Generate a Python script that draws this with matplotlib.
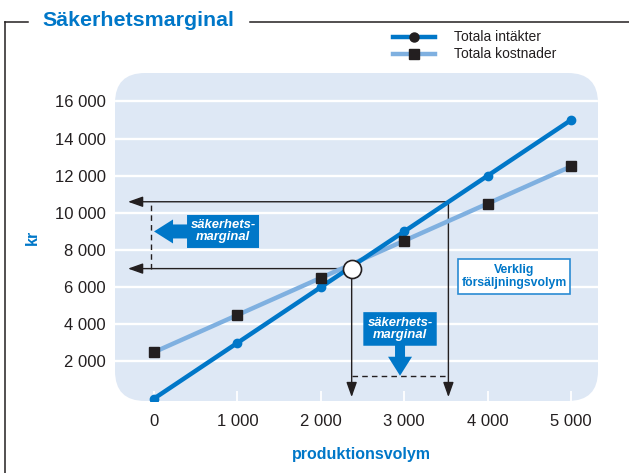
import matplotlib
matplotlib.use("Agg")
import matplotlib.pyplot as plt
import matplotlib.transforms as mtransforms
from matplotlib.patches import FancyBboxPatch, Polygon, Rectangle
from matplotlib.lines import Line2D

# --- data -------------------------------------------------------------
volume = [0, 1000, 2000, 3000, 4000, 5000]
revenue = [0, 3000, 6000, 9000, 12000, 15000]
costs = [2500, 4500, 6500, 8500, 10500, 12500]
x_ticks = [0, 1000, 2000, 3000, 4000, 5000]
x_labels = ["0", "1 000", "2 000", "3 000", "4 000", "5 000"]
y_ticks = [2000, 4000, 6000, 8000, 10000, 12000, 14000, 16000]
y_labels = ["2 000", "4 000", "6 000", "8 000", "10 000", "12 000", "14 000", "16 000"]

break_even_volume = 2370
break_even_kr = 7000
actual_volume = 3530
actual_kr = 10600

# --- style ------------------------------------------------------------
BLUE = "#0077C8"
LIGHT = "#7FB0E0"
BG = "#DEE8F5"
INK = "#231F20"
W, H = 629, 473

plt.rcParams["font.family"] = ["Liberation Sans", "DejaVu Sans"]

fig = plt.figure(figsize=(W / 100, H / 100), dpi=100)
fig.patch.set_facecolor("white")


def fx(x):
    return x / W


def fy(y):
    return 1 - y / H


ax = fig.add_axes([fx(115), fy(401), 483 / W, 328 / H])
ax.patch.set_visible(False)
for s in ax.spines.values():
    s.set_visible(False)

# rounded light-blue plotting panel
bg = FancyBboxPatch((0, 0), 1, 1, boxstyle="round,pad=0,rounding_size=0.0621",
                    mutation_aspect=483 / 328, transform=ax.transAxes,
                    facecolor=BG, edgecolor="none", zorder=0)
ax.add_patch(bg)

for yv in y_ticks:
    gl = ax.axhline(yv, color="white", lw=1.7, zorder=0.5)
    gl.set_clip_path(bg)

# --- guide arrows -----------------------------------------------------
left_tip = -312
margin_x = -40
bottom_tip = 80
margin_y = 1230
arrow_kw = dict(arrowstyle="-|>,head_length=0.9,head_width=0.32", mutation_scale=10,
                lw=1.0, color=INK, shrinkA=0, shrinkB=0)

ax.annotate("", xy=(left_tip, actual_kr), xytext=(actual_volume, actual_kr),
            arrowprops=arrow_kw, zorder=2)
ax.annotate("", xy=(left_tip, break_even_kr), xytext=(break_even_volume, break_even_kr),
            arrowprops=arrow_kw, zorder=2)
ax.annotate("", xy=(actual_volume, bottom_tip), xytext=(actual_volume, actual_kr),
            arrowprops=arrow_kw, zorder=2)
ax.annotate("", xy=(break_even_volume, bottom_tip), xytext=(break_even_volume, break_even_kr),
            arrowprops=arrow_kw, zorder=2)
ax.plot([margin_x, margin_x], [break_even_kr, actual_kr], color=INK, lw=1.0,
        ls=(0, (4, 3)), zorder=2)
ax.plot([break_even_volume, actual_volume], [margin_y, margin_y], color=INK, lw=1.0,
        ls=(0, (4, 3)), zorder=2)

# --- series -----------------------------------------------------------
ax.plot(volume, costs, color=LIGHT, lw=3.2, solid_capstyle="butt", zorder=3)
ax.plot(volume, costs, ls="none", marker="s", ms=7.2, color=INK, zorder=4)
ax.plot(volume, revenue, color=BLUE, lw=3.2, marker="o", ms=6, zorder=3)

ax.plot([break_even_volume], [break_even_kr], marker="o", ms=13, mfc="white",
        mec=INK, mew=1.2, zorder=6)


# --- callouts ---------------------------------------------------------
def anchored(x, y):
    return (mtransforms.Affine2D().scale(1 / fig.dpi) + fig.dpi_scale_trans
            + mtransforms.ScaledTranslation(x, y, ax.transData))


t1 = anchored(0, 9000)
shape1 = [(0, 0), (19, 12), (19, 7), (33, 7), (33, 16.5), (105, 16.5),
          (105, -16.5), (33, -16.5), (33, -7), (19, -7), (19, -12)]
ax.add_patch(Polygon(shape1, closed=True, transform=t1, facecolor=BLUE,
                     edgecolor="none", zorder=5))
ax.text(69, 0, "säkerhets-\nmarginal", transform=t1, ha="center", va="center",
        color="white", fontsize=9.4, fontweight="bold", style="italic",
        linespacing=1.0, zorder=6)

t2 = anchored((break_even_volume + actual_volume) / 2, margin_y)
shape2 = [(0, 0), (12, 19), (5, 19), (5, 30), (36.7, 30), (36.7, 63.6),
          (-36.7, 63.6), (-36.7, 30), (-5, 30), (-5, 19), (-12, 19)]
ax.add_patch(Polygon(shape2, closed=True, transform=t2, facecolor=BLUE,
                     edgecolor="none", zorder=5))
ax.text(0, 46.8, "säkerhets-\nmarginal", transform=t2, ha="center", va="center",
        color="white", fontsize=9.4, fontweight="bold", style="italic",
        linespacing=1.0, zorder=6)

t3 = anchored(4317, 6575)
ax.add_patch(Rectangle((-55.7, -17.5), 111.4, 35, transform=t3, facecolor="white",
                       edgecolor="#2A8BD3", lw=1.2, zorder=5))
ax.text(0, 0, "Verklig\nförsäljningsvolym", transform=t3, ha="center", va="center",
        color=BLUE, fontsize=8.8, fontweight="bold", linespacing=1.1, zorder=6)

# --- axes -------------------------------------------------------------
ax.set_xticks(x_ticks, labels=x_labels)
ax.set_yticks(y_ticks, labels=y_labels)
ax.tick_params(axis="x", direction="in", length=7, width=1.3, color="white",
               labelsize=12, labelcolor=INK, pad=9.5)
ax.tick_params(axis="y", length=0, labelsize=12, labelcolor=INK, pad=6.5)
ax.set_xlim(-468, 5324)
ax.set_ylim(-130, 17534)

fig.text(fx(361), fy(454), "produktionsvolym", ha="center", va="center",
         color=BLUE, fontsize=11.5, fontweight="bold")
fig.text(fx(32), fy(237), "kr", ha="center", va="center", rotation=90,
         color=BLUE, fontsize=11.5, fontweight="bold")

# --- title and frame --------------------------------------------------
fig.text(fx(42), fy(26), "Säkerhetsmarginal", ha="left", va="baseline",
         color=BLUE, fontsize=15.4, fontweight="bold")
frame_kw = dict(color=INK, lw=1.1, transform=fig.transFigure)
fig.add_artist(Line2D([fx(5), fx(28)], [fy(22), fy(22)], **frame_kw))
fig.add_artist(Line2D([fx(250), fx(629)], [fy(22), fy(22)], **frame_kw))
fig.add_artist(Line2D([fx(5), fx(5)], [fy(22), fy(473)], **frame_kw))

# --- legend -----------------------------------------------------------
legend_items = [("Totala intäkter", BLUE, "o", 6.5, 37),
                ("Totala kostnader", LIGHT, "s", 7.2, 54)]
for label, col, mk, size, ypx in legend_items:
    fig.add_artist(Line2D([fx(393), fx(435)], [fy(ypx), fy(ypx)], color=col, lw=3.2,
                          transform=fig.transFigure))
    fig.add_artist(Line2D([fx(414)], [fy(ypx)], ls="none", marker=mk, ms=size,
                          color=INK, transform=fig.transFigure))
    fig.text(fx(454), fy(ypx), label, ha="left", va="center", color=INK, fontsize=10)

fig.savefig("out.png", dpi=100)
